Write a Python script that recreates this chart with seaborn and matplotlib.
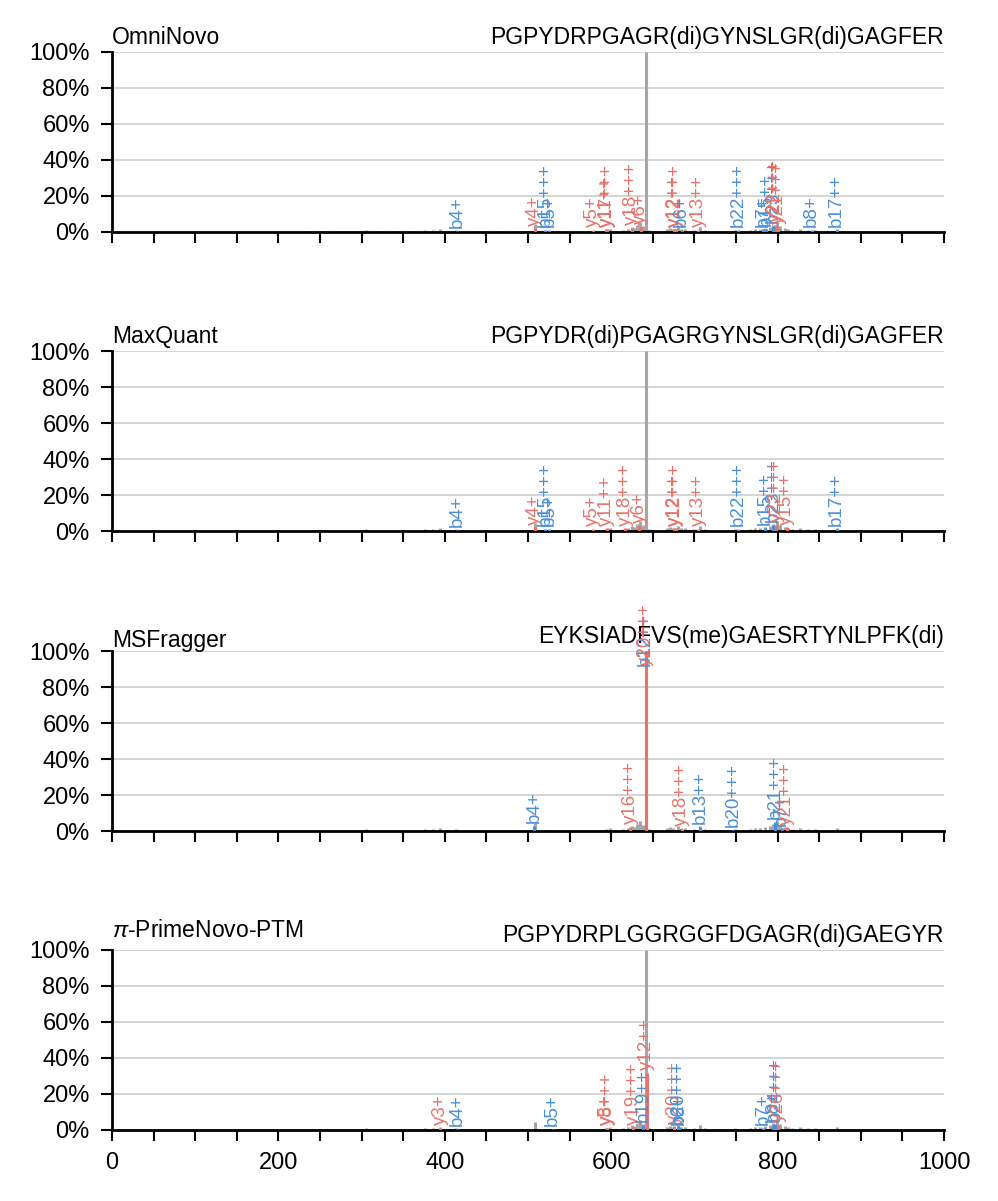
import matplotlib
matplotlib.use("Agg")
import matplotlib.pyplot as plt
from matplotlib.ticker import MultipleLocator, FuncFormatter
import seaborn as sns
import pandas as pd

# raw spectrum, shared by every panel (m/z, relative intensity in %)
peak_mz = [232, 252, 270, 288, 305, 322, 340, 358, 376, 386, 394, 405, 414, 434, 448,
           466, 482, 494, 508, 528, 545, 562, 580, 594, 598, 606, 614, 620, 624.6, 628,
           630.6, 634.6, 638, 641.4, 646, 652, 658.6, 666.7, 670.7, 674.3, 680, 684,
           688.7, 695, 700, 706.7, 712.7, 722, 735, 748.8, 758.8, 766.8, 772.8, 778.8,
           784.9, 790.9, 794.9, 798.9, 802.9, 808.9, 812, 816.9, 826.9, 836.9, 845, 858,
           871, 884, 895, 912, 931]
peak_int = [0.6, 0.4, 0.6, 0.4, 1.2, 0.4, 0.5, 0.4, 1.0, 1.0, 1.8, 0.6, 0.9, 0.6, 0.6,
            0.5, 0.6, 0.7, 4.5, 0.8, 0.5, 0.5, 0.8, 1.0, 1.8, 0.8, 1.0, 1.8, 3.0, 2.4,
            4.0, 5.5, 3.5, 100, 1.2, 0.8, 0.6, 1.8, 2.4, 1.8, 3.0, 1.5,
            1.5, 0.8, 1.0, 3.0, 1.0, 0.6, 0.8, 1.0, 0.8, 1.2, 1.5, 1.8,
            2.2, 3.0, 4.0, 5.5, 3.5, 2.4, 1.6, 1.2, 1.4, 1.0, 1.2, 0.6,
            1.4, 0.5, 0.5, 0.4, 0.6]

tools = ["OmniNovo", "MaxQuant", "MSFragger", r"$\pi$-PrimeNovo-PTM"]
sequences = ["PGPYDRPGAGR(di)GYNSLGR(di)GAGFER",
             "PGPYDR(di)PGAGRGYNSLGR(di)GAGFER",
             "EYKSIADFVS(me)GAESRTYNLPFK(di)",
             "PGPYDRPLGGRGGFDGAGR(di)GAEGYR"]

# matched fragment ions per tool
omni_mz = [415, 508, 521, 525, 578, 594, 595.5, 624.6, 635.5, 676, 677.5, 684.7, 704.7,
           752.8, 783, 786, 795, 798, 801, 840.8, 871]
omni_int = [0.8, 2.0, 1.0, 1.0, 1.0, 1.5, 1.5, 2.5, 3.0, 1.5, 1.5, 1.0, 1.0,
            1.0, 1.5, 1.8, 3.5, 4.0, 3.0, 1.0, 1.2]
omni_lbl = ["b4+", "y4+", "b15+++", "b5+", "y5+", "y11++", "y17+++", "y18+++", "y6+",
            "y12++", "y12+++", "b6+", "y13++", "b22+++", "b7+", "b15++", "b23+++",
            "y22+++", "y21+++", "b8+", "b17++"]

maxq_mz = [415, 508, 521, 525, 578, 594.5, 616.6, 633.8, 676, 677.5, 704.7, 752.8,
           784.9, 794.9, 798.5, 810.9, 871]
maxq_int = [0.8, 2.0, 1.0, 1.0, 1.0, 1.5, 1.5, 3.0, 1.5, 1.5, 1.0, 1.0,
            1.8, 3.5, 3.5, 2.0, 1.2]
maxq_lbl = ["b4+", "y4+", "b15+++", "b5+", "y5+", "y11++", "y18+++", "y6+", "y12++",
            "y12+++", "y13++", "b22+++", "b15++", "b23+++", "y22+++", "y15++", "b17++"]

msf_mz = [507.6, 622.6, 641.4, 641.4, 684.6, 706.7, 746.8, 796.9, 805, 810.9]
msf_int = [3.0, 2.5, 100, 100, 1.2, 2.5, 0.8, 5.0, 1.5, 2.0]
msf_lbl = ["b4+", "y16+++", "b12++", "y20+++", "y18+++", "b13++", "b20+++", "b21+++",
           "b7+", "y21+++"]

prime_mz = [394.2, 415, 529.6, 594.5, 595.5, 626.6, 638.6, 642.6, 675.9, 680.7, 682,
            782.9, 795, 796.9, 801]
prime_int = [1.0, 0.8, 0.8, 1.0, 1.0, 1.5, 3.0, 31.7, 2.0, 2.0, 1.5,
             1.0, 3.0, 3.5, 3.0]
prime_lbl = ["y3+", "b4+", "b5+", "y5+", "y8+++", "y19+++", "b19++", "y12++", "y20+++",
             "b20+++", "b6+", "b7+", "b8+", "b24+++", "y26+++"]

annotations = [(omni_mz, omni_int, omni_lbl), (maxq_mz, maxq_int, maxq_lbl),
               (msf_mz, msf_int, msf_lbl), (prime_mz, prime_int, prime_lbl)]

B_COLOR = "#4a90d9"
Y_COLOR = "#e8736a"
GREY = "#a6a6a6"

sns.set_theme(style="white")
plt.rcParams['font.family'] = ['Liberation Sans', 'DejaVu Sans']
plt.rcParams['mathtext.fontset'] = 'custom'
plt.rcParams['mathtext.it'] = 'Liberation Sans:italic'
plt.rcParams['mathtext.rm'] = 'Liberation Sans'

spec = pd.DataFrame({"mz": peak_mz, "intensity": peak_int})

fig = plt.figure(figsize=(9.98, 12.01), dpi=100)
W, H = 998, 1201
panel_bottoms = [232, 531, 831, 1130]
title_y = [1.083, 1.078, 1.056, 1.106]
seq_y = [1.083, 1.078, 1.083, 1.078]

for i, bottom in enumerate(panel_bottoms):
    ax = fig.add_axes([112 / W, (H - bottom) / H, 832 / W, 180 / H])
    ax.set_xlim(0, 1000)
    ax.set_ylim(0, 100)
    ax.yaxis.set_major_locator(MultipleLocator(20))
    ax.yaxis.set_major_formatter(FuncFormatter(lambda v, p: f"{v:.0f}%"))
    ax.xaxis.set_major_locator(MultipleLocator(50))
    ax.xaxis.set_major_formatter(FuncFormatter(lambda v, p: f"{v:.0f}" if v % 200 == 0 else ""))
    ax.grid(axis="y", color="#d4d4d4", lw=1.4)
    ax.set_axisbelow(True)
    sns.despine(ax=ax)
    for s in ["left", "bottom"]:
        ax.spines[s].set_color("black")
        ax.spines[s].set_linewidth(2)
    ax.tick_params(axis="both", which="major", length=8, width=1.5, color="black",
                   labelsize=17, labelcolor="black", direction="out",
                   bottom=True, left=True)
    ax.tick_params(axis="y", pad=8)
    ax.tick_params(axis="x", pad=8, labelbottom=(i == 3))

    ax.vlines(spec["mz"], 0, spec["intensity"], color=GREY, lw=2.2, zorder=2)

    a_mz, a_int, a_lbl = annotations[i]
    for mz, inten, lbl in zip(a_mz, a_int, a_lbl):
        col = B_COLOR if lbl.startswith("b") else Y_COLOR
        ax.vlines(mz, 0, inten, color=col, lw=2.2, zorder=3)
        ty = min(inten, 90)
        ax.annotate(lbl, (mz, ty), xytext=(0, 2), textcoords="offset points",
                    rotation=90, ha="center", va="bottom", fontsize=13.5,
                    color=col, annotation_clip=False, zorder=4)

    ax.text(0, title_y[i], tools[i], transform=ax.transAxes, ha="left", va="center",
            fontsize=16.5, color="black")
    ax.text(1, seq_y[i], sequences[i], transform=ax.transAxes, ha="right", va="center",
            fontsize=16.5, color="black")

fig.savefig("out.png", dpi=100)
